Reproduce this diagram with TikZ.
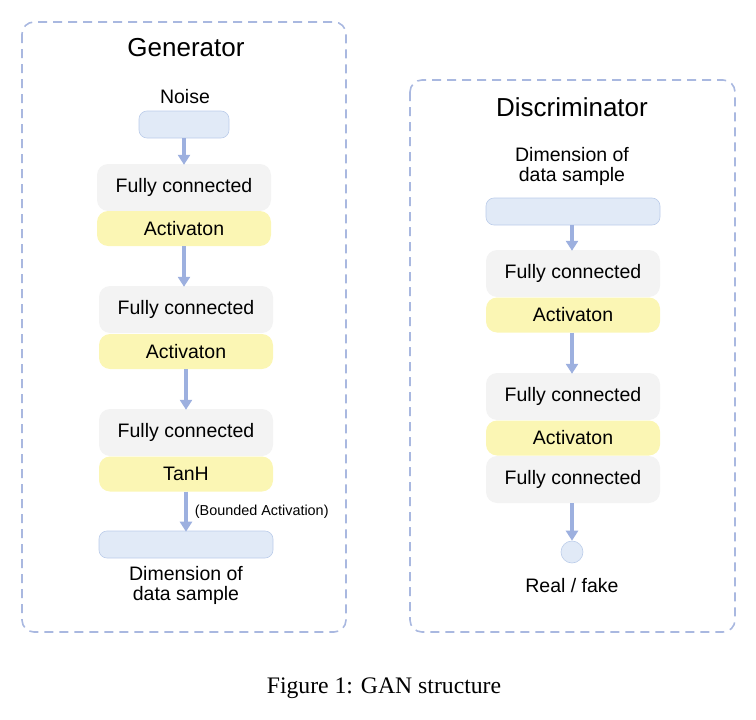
\documentclass[tikz,border=0pt]{standalone}
\usepackage{fontspec}
\setmainfont{Liberation Sans}
\newfontfamily\capfont{Liberation Serif}
\usetikzlibrary{arrows.meta}
\definecolor{frameblue}{HTML}{A9B8E0}
\definecolor{arrowblue}{HTML}{9DB0DF}
\definecolor{inblue}{HTML}{E1EAF7}
\definecolor{inedge}{HTML}{BCCDEA}
\definecolor{fcgray}{HTML}{F3F3F3}
\definecolor{actyellow}{HTML}{FBF6B4}
\tikzset{
  panel/.style={draw=frameblue, line width=1.6pt, dash pattern=on 9pt off 6pt, rounded corners=12pt},
  fcbox/.style={fill=fcgray, rounded corners=11pt, minimum width=174pt, minimum height=47pt, inner sep=0pt,
    font=\fontsize{19.5}{22}\selectfont},
  actbox/.style={fill=actyellow, rounded corners=11pt, minimum width=174pt, minimum height=35pt, inner sep=0pt,
    font=\fontsize{19.5}{22}\selectfont},
  iobox/.style={fill=inblue, draw=inedge, line width=0.6pt, rounded corners=8pt, minimum height=27pt, inner sep=0pt},
  lbl/.style={font=\fontsize{19.5}{20}\selectfont, align=center, inner sep=0pt},
  ttl/.style={font=\fontsize{26}{28}\selectfont, inner sep=0pt},
  flow/.style={draw=arrowblue, line width=3.8pt, -{Triangle[width=12pt,length=10pt]}},
}
\begin{document}
\begin{tikzpicture}[x=1pt,y=-1pt]
\useasboundingbox (0,0) rectangle (756,720);

% frames
\draw[panel] (22,22) rectangle (346,632);
\draw[panel] (410,80) rectangle (735,632);

% ---------- generator ----------
\node[ttl] (gtitle) at (186,48) {Generator};
\node[lbl] (noiselbl) at (185,97) {Noise};
\node[iobox, minimum width=90pt] (noise) at (184,124.5) {};
\node[fcbox] (gfc1) at (184,187.5) {Fully connected};
\node[actbox] (gact1) at (184,228.5) {Activaton};
\node[fcbox] (gfc2) at (186,309.5) {Fully connected};
\node[actbox] (gact2) at (186,351.5) {Activaton};
\node[fcbox] (gfc3) at (186,432.5) {Fully connected};
\node[actbox] (gtanh) at (186,474) {TanH};
\node[iobox, minimum width=174pt] (gout) at (186,544.5) {};
\node[lbl] (goutlbl) at (186,585) {Dimension of\\data sample};

\draw[flow] (noise.south) -- ([yshift=-1pt]noise.south |- gfc1.north);
\draw[flow] (gact1.south) -- ([yshift=-1pt]gact1.south |- gfc2.north);
\draw[flow] (gact2.south) -- ([yshift=-1pt]gact2.south |- gfc3.north);
\draw[flow] (gtanh.south) -- node[right=7pt, font=\fontsize{14.4}{16}\selectfont, inner sep=0pt] (bnd) {(Bounded Activation)} ([yshift=-1pt]gtanh.south |- gout.north);

% ---------- discriminator ----------
\node[ttl] (dtitle) at (572,107) {Discriminator};
\node[lbl] (dinlbl) at (572,166) {Dimension of\\data sample};
\node[iobox, minimum width=174pt] (din) at (573,211.5) {};
\node[fcbox] (dfc1) at (573,273.5) {Fully connected};
\node[actbox] (dact1) at (573,315) {Activaton};
\node[fcbox] (dfc2) at (573,396.5) {Fully connected};
\node[actbox] (dact2) at (573,438) {Activaton};
\node[fcbox] (dfc3) at (573,479.5) {Fully connected};
\node[circle, fill=inblue, draw=inedge, line width=0.6pt, minimum size=22pt, inner sep=0pt] (dout) at (572,552) {};
\node[lbl] (doutlbl) at (572,586) {Real / fake};

\draw[flow] ([xshift=-1pt]din.south) -- ([xshift=-1pt,yshift=-1pt]din.south |- dfc1.north);
\draw[flow] ([xshift=-1pt]dact1.south) -- ([xshift=-1pt,yshift=-1pt]dact1.south |- dfc2.north);
\draw[flow] (dout.north |- dfc3.south) -- (dout.north);

% caption
\node[font=\capfont\fontsize{23.7}{26}\selectfont, inner sep=0pt] (cap) at (384,688) {Figure 1: GAN structure};
\end{tikzpicture}
\end{document}
